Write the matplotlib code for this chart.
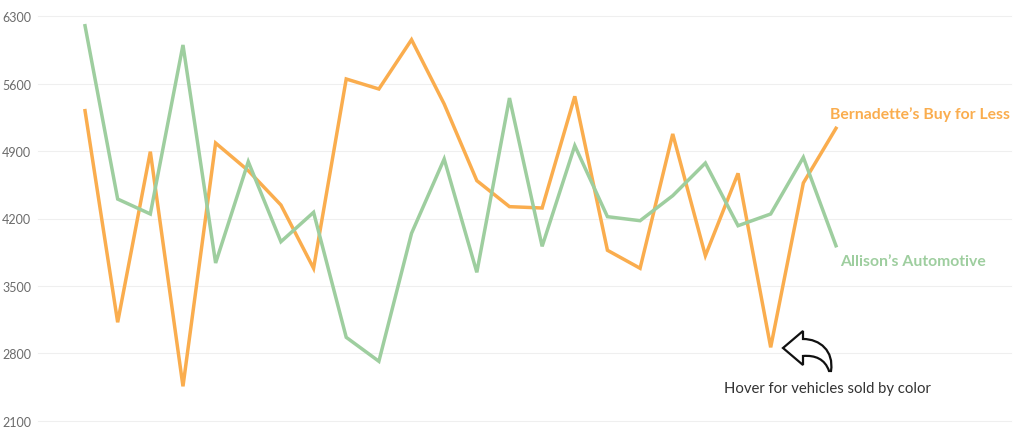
import numpy as np
import matplotlib
matplotlib.use("Agg")
import matplotlib.pyplot as plt
from matplotlib.path import Path
from matplotlib.patches import PathPatch

# vehicles sold per period
bernadette = [5320, 3122, 4894, 2457, 4984, 4697, 4340, 3683, 5649, 5545,
              6057, 5389, 4593, 4323, 4309, 5469, 3870, 3683, 5078, 3814,
              4669, 2862, 4569, 5137]
allison = [6202, 4402, 4247, 6002, 3738, 4790, 3959, 4264, 2966, 2717,
           4046, 4818, 3641, 5451, 3911, 4956, 4219, 4177, 4437, 4776,
           4125, 4247, 4835, 3917]
yticks = [2100, 2800, 3500, 4200, 4900, 5600, 6300]

orange = "#FAAD4E"
green = "#9ECE9F"

plt.rcParams['font.family'] = ['Lato', 'DejaVu Sans']

fig = plt.figure(figsize=(10.24, 4.35), dpi=100)
ax = fig.add_axes([38/1024, 13.3/435, 973/1024, 404.4/435])

x = np.arange(len(bernadette))
ax.plot(x, bernadette, color=orange, lw=2.5, solid_joinstyle='miter')
ax.plot(x, allison, color=green, lw=2.5, solid_joinstyle='miter')

ax.set_xlim(-1.44, 28.36)
ax.set_ylim(2100, 6300)
ax.set_yticks(yticks)
ax.set_yticklabels([str(t) for t in yticks], color="#6b6b6b", fontsize=9)
ax.set_xticks([])
ax.tick_params(axis='y', length=0, pad=5)
ax.grid(axis='y', color="#efefef", lw=0.8)
for gl in ax.get_ygridlines():
    gl.set_clip_on(False)
ax.set_axisbelow(True)
for s in ax.spines.values():
    s.set_visible(False)

ax.text(22.82, 5285, "Bernadette\u2019s Buy for Less", color=orange,
        fontsize=11.3, fontweight='bold', va='center', ha='left')
ax.text(23.12, 3759, "Allison\u2019s Automotive", color=green,
        fontsize=11.3, fontweight='bold', va='center', ha='left')
ax.text(22.75, 2440, "Hover for vehicles sold by color", color="#333333",
        fontsize=10.7, va='center', ha='center')

# curved arrow icon, drawn in pixel space
ov = fig.add_axes([0, 0, 1, 1])
ov.set_xlim(0, 1024)
ov.set_ylim(435, 0)
ov.axis('off')
verts = [(783, 349), (803, 332), (803, 340),
         (820, 340), (834, 352), (831, 372),
         (829, 372),
         (825, 360), (815, 356), (803, 357),
         (803, 366), (783, 349)]
codes = [Path.MOVETO, Path.LINETO, Path.LINETO,
         Path.CURVE4, Path.CURVE4, Path.CURVE4,
         Path.LINETO,
         Path.CURVE4, Path.CURVE4, Path.CURVE4,
         Path.LINETO, Path.CLOSEPOLY]
ov.add_patch(PathPatch(Path(verts, codes), facecolor='white',
                       edgecolor='#111111', lw=1.6, joinstyle='miter'))

fig.savefig("out.png", dpi=100)
